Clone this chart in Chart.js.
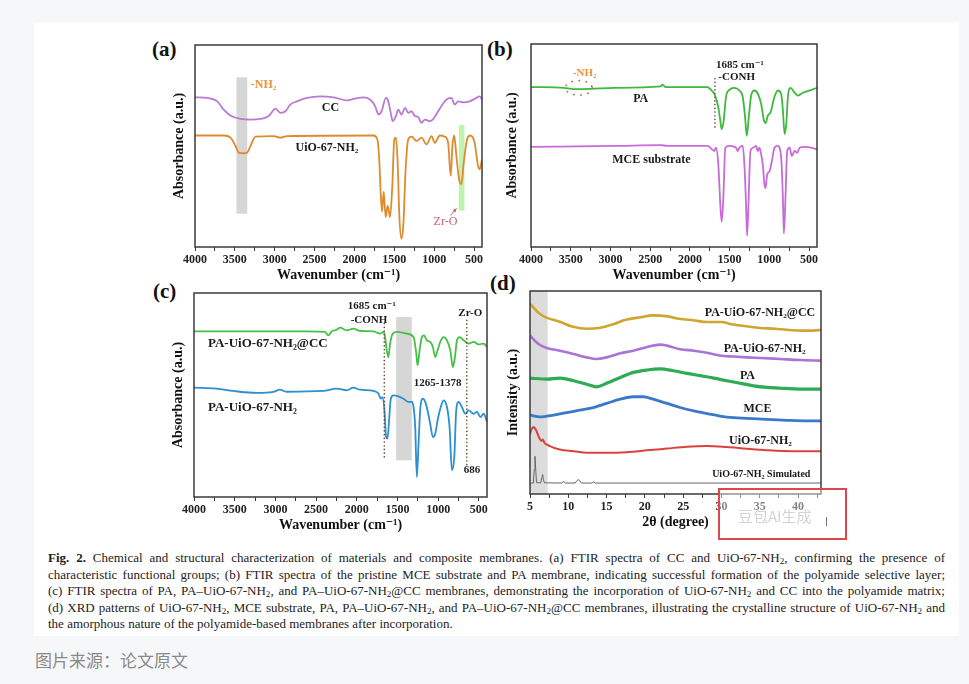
<!DOCTYPE html>
<html lang="en">
<head>
<meta charset="UTF-8">
<title>Fig. 2 FTIR and XRD</title>
<script src="https://cdn.jsdelivr.net/npm/chart.js"></script>
<style>
    * { box-sizing: border-box; margin: 0; padding: 0; }
    body {
        width: 969px; height: 684px; position: relative; overflow: hidden;
        background: #f6f7f8;
        font-family: 'Liberation Serif', 'DejaVu Serif', serif;
    }
    .sheet { position: absolute; left: 34px; top: 22px; width: 925px; height: 614px; background: #fff; }
    .tag { position: absolute; font: bold 21px 'Liberation Serif', 'DejaVu Serif', serif; color: #111; }
    canvas { position: absolute; }
    .caption { position: absolute; left: 48px; top: 550px; width: 897px; font-size: 13px; line-height: 16.5px; color: #222; }
    .caption div { text-align: justify; text-align-last: justify; }
    .caption div.last { text-align-last: left; }
    .caption sub { font-size: 70%; vertical-align: -0.2em; line-height: 0; }
    .source { position: absolute; left: 35px; top: 647px; font: 17px 'Noto Sans CJK SC', sans-serif; color: #8a8a8a; }
    .redbox {
        position: absolute; left: 718px; top: 488px; width: 129px; height: 52px;
        border: 2px solid #e0474c; background: rgba(255, 255, 255, 0.45);
    }
    .redbox span { position: absolute; left: 18px; top: 15px; font: 15px 'Noto Sans CJK SC', sans-serif; color: #d4d4d4; }
    .redbox i { position: absolute; left: 106px; top: 27px; width: 1px; height: 9px; background: #777; }
</style>
</head>
<body>
<div class="sheet"></div>

<div class="tag" style="left:152px;top:37px">(a)</div>
<div class="tag" style="left:487px;top:37px">(b)</div>
<div class="tag" style="left:153px;top:279px">(c)</div>
<div class="tag" style="left:490px;top:271px">(d)</div>

<canvas id="cA" width="319" height="244" style="left:171px;top:40px"></canvas>
<canvas id="cB" width="321" height="245" style="left:504px;top:39px"></canvas>
<canvas id="cC" width="325" height="246" style="left:170px;top:288px"></canvas>
<canvas id="cD" width="324" height="245" style="left:505px;top:286px"></canvas>

<div class="redbox"><span>豆包AI生成</span><i></i></div>

<div class="caption">
    <div><b>Fig. 2.</b> Chemical and structural characterization of materials and composite membranes. (a) FTIR spectra of CC and UiO-67-NH<sub>2</sub>, confirming the presence of</div>
    <div>characteristic functional groups; (b) FTIR spectra of the pristine MCE substrate and PA membrane, indicating successful formation of the polyamide selective layer;</div>
    <div>(c) FTIR spectra of PA, PA–UiO-67-NH<sub>2</sub>, and PA–UiO-67-NH<sub>2</sub>@CC membranes, demonstrating the incorporation of UiO-67-NH<sub>2</sub> and CC into the polyamide matrix;</div>
    <div>(d) XRD patterns of UiO-67-NH<sub>2</sub>, MCE substrate, PA, PA–UiO-67-NH<sub>2</sub>, and PA–UiO-67-NH<sub>2</sub>@CC membranes, illustrating the crystalline structure of UiO-67-NH<sub>2</sub> and</div>
    <div class="last">the amorphous nature of the polyamide-based membranes after incorporation.</div>
</div>

<div class="source">图片来源：论文原文</div>

<script>
// (a) FTIR of CC and UiO-67-NH2 (absorbance in arbitrary units, 0-100 of the frame)
const ccWave = [4000,3850,3720,3640,3555,3430,3305,3180,3075,2990,2930,2865,2805,2720,2595,2430,2260,2095,2010,1885,1805,1740,1700,1660,1605,1575,1545,1520,1480,1450,1410,1365,1325,1285,1240,1200,1160,1115,1055,1010,950,910,845,785,740,700,635,555,470,430,400];
const ccAbs = [74.1,73.8,72.1,68.0,65.1,63.4,63.1,63.4,64.8,68.5,66.4,67.2,70.5,72.1,73.8,74.6,74.1,72.6,73.3,74.1,73.0,69.7,65.6,67.2,73.8,72.1,66.4,62.3,64.8,68.0,65.6,68.9,66.4,67.2,64.8,64.4,61.5,63.1,62.3,63.4,67.2,69.7,73.0,73.8,70.5,72.1,71.6,72.1,73.8,74.6,73.0];
const uioWave = [4000,3637,3554,3492,3450,3387,3346,3304,3242,3012,2929,2846,1762,1713,1687,1671,1654,1633,1608,1583,1554,1525,1500,1479,1458,1437,1412,1387,1358,1325,1283,1221,1158,1096,1033,992,929,867,825,792,771,750,721,688,658,629,587,546,492,450,429,400];
const uioAbs = [55.2,55.2,54.1,50.0,46.7,46.4,46.7,50.0,54.6,54.9,54.1,54.9,55.2,53.3,41.8,27.0,17.5,27.4,14.8,20.5,14.8,30.3,53.3,54.1,41.8,15.6,4.1,10.7,38.5,53.3,54.6,52.5,54.1,50.8,54.9,51.6,55.2,54.6,51.6,35.2,50.0,55.2,45.1,33.6,31.1,41.8,53.3,55.2,51.6,40.2,38.5,43.4];

// (b) FTIR of PA and the MCE substrate
const paWave = [4000,3587,3461,3251,2956,2366,2345,2303,1777,1735,1693,1642,1617,1600,1575,1545,1503,1440,1377,1335,1305,1284,1259,1229,1187,1145,1103,1067,1048,1019,985,935,893,851,829,808,787,766,733,682,640,577,472,400];
const paAbs = [78.8,78.4,77.8,77.9,78.4,79.1,80.0,78.8,78.8,77.4,75.5,68.8,62.2,58.0,62.2,74.0,77.4,78.4,77.1,74.0,63.8,54.7,63.8,74.6,77.1,75.5,70.5,62.2,61.0,64.7,66.3,74.0,77.1,75.5,67.2,55.6,60.5,74.0,78.4,76.0,74.6,76.0,77.4,78.4];
const mceWave = [4000,2956,2366,2282,1777,1735,1693,1672,1642,1617,1600,1579,1554,1503,1419,1398,1377,1335,1314,1293,1280,1263,1238,1208,1166,1145,1124,1103,1082,1061,1048,1027,998,968,935,893,851,829,817,800,775,745,716,682,648,619,556,472,400];
const mceAbs = [49.3,49.8,50.2,49.8,49.8,48.6,47.3,48.9,40.6,20.7,12.4,24.0,48.9,49.8,48.9,47.3,48.9,49.8,40.6,20.7,5.5,20.7,47.3,48.9,49.8,47.3,48.9,45.6,40.6,30.7,29.0,35.7,37.3,42.3,48.9,49.8,43.9,24.0,6.6,20.7,47.3,48.9,44.8,47.3,46.4,48.9,49.3,48.9,48.1];

// (c) FTIR of PA-UiO-67-NH2@CC and PA-UiO-67-NH2
const pacWave = [4000,3438,2617,2391,2350,2309,2247,2206,2124,2042,1960,1796,1713,1672,1652,1632,1612,1591,1558,1509,1385,1303,1269,1254,1228,1200,1172,1139,1098,1065,1036,1007,974,933,892,851,819,794,769,737,687,626,564,502,441,400];
const pacAbs = [81.2,81.2,81.2,80.9,79.2,81.2,82.0,83.0,81.7,82.5,81.4,81.2,80.1,80.9,78.4,71.9,68.6,75.2,80.1,80.9,80.1,78.4,70.3,64.5,71.9,78.4,79.2,76.8,76.0,73.5,68.6,71.9,76.0,78.4,76.8,71.9,63.7,68.6,76.8,78.4,76.8,75.2,76.0,74.8,75.2,73.5];
const pauWave = [4000,3725,3520,3232,3027,2945,2863,2411,2247,2124,2042,1960,1796,1734,1705,1685,1660,1640,1623,1603,1582,1549,1488,1426,1365,1324,1303,1282,1262,1241,1221,1188,1159,1131,1098,1065,1036,1007,974,933,892,860,831,802,778,749,708,667,626,564,523,482,441,400];
const pauAbs = [53.6,53.1,52.0,51.0,51.5,52.6,51.6,52.0,53.1,52.3,53.6,52.6,52.0,50.7,48.2,49.0,42.5,29.4,28.6,37.6,48.2,49.8,49.3,48.2,46.6,46.6,44.1,34.3,9.8,26.1,42.5,48.2,46.6,42.5,35.9,29.4,31.0,37.6,43.3,47.4,44.1,34.3,13.1,19.6,42.5,46.6,44.1,40.8,42.5,40.8,41.7,39.2,40.8,36.8];

// (d) XRD patterns (2 theta in degrees, stacked intensity in arbitrary units)
const ccxTheta = [5,5.4,6,7,9,10.5,12.5,14,16,17.5,19.5,21,23,24.5,26.5,28,30,31.5,33.5,35,37,38.5,40.5,42,43];
const ccxInt = [93.7,92.1,89.6,87.1,84.7,82.5,81.4,81.8,83.8,85.8,87.1,88.0,87.5,86.3,85.5,84.7,84.7,83.5,82.5,81.8,81.4,80.9,80.5,80.5,80.9];
const puxTheta = [5,5.4,6.1,7.2,8.9,10.7,12.4,13.7,15,16.8,18.5,20.2,22,22.9,24.6,26.4,28.1,29.8,31.6,33.3,35.1,37.7,40.3,43];
const puxInt = [78.1,76.4,73.9,71.9,70.6,69.0,67.3,66.5,67.3,69.3,70.6,72.3,73.6,73.1,71.3,70.6,69.6,68.2,67.7,67.3,67.0,66.5,66.0,65.7];
const paxTheta = [5,7.2,8.9,10.7,12.4,13.7,15,16.8,18.5,20.3,22,23.7,25.5,27.2,29,30.7,32.5,34.2,36,37.7,40.3,43];
const paxInt = [57.1,56.6,57.1,55.8,54.1,52.8,54.5,57.4,59.9,61.1,61.6,60.7,59.4,58.3,57.1,55.8,54.5,53.3,52.5,52.1,51.7,51.7];
const mcexTheta = [5,6.3,8.1,9.8,11.5,13.3,15,16.8,18.5,19.8,21.1,22.9,24.6,26.4,28.1,29.8,31.6,33.3,35.9,38.6,41.2,43];
const mcexInt = [38.9,38.0,38.9,40.1,41.3,42.6,44.6,46.7,47.9,47.9,46.7,44.6,42.6,40.9,39.6,38.4,37.6,37.3,36.8,36.3,36.0,36.0];
const uioxTheta = [5,5.2,5.45,5.8,6.2,6.5,6.65,6.9,7.6,8.9,10.7,12.4,15,17.6,20.3,22.9,25.5,28.1,30.7,33.3,35.9,39.4,43];
const uioxInt = [29.4,31.8,33.0,31.4,27.7,26.1,26.9,25.2,23.6,21.9,21.1,20.3,20.3,20.6,21.5,22.4,23.3,23.6,23.1,22.3,21.6,21.1,21.1];
const simTheta = [5,5.45,5.55,5.65,5.75,5.85,6.4,6.55,6.65,6.75,6.9,9.2,9.4,9.6,10.9,11.1,11.3,11.5,11.7,13.1,13.3,13.5,43];
const simInt = [5.4,5.4,12,18.6,12,5.6,5.5,8,9.6,7,5.5,5.4,6.3,5.4,5.4,6.5,7.1,6.6,5.4,5.4,5.9,5.4,5.4];

// tick positions (labels only on the major ones)
const ftirTicks = [4000,3750,3500,3250,3000,2750,2500,2250,2000,1750,1500,1250,1000,750,500];
const xrdTicks = [5,7.5,10,12.5,15,17.5,20,22.5,25,27.5,30,32.5,35,37.5,40,42.5];

const SERIF = "'Liberation Serif', 'DejaVu Serif', serif";
Chart.defaults.font.family = SERIF;
Chart.defaults.color = '#222';

// annotations for each panel, in data units
const panelNotes = {
    cA: {
        bands: [
            { from: 3480, to: 3345, top: 84, bottom: 16.5, color: 'rgba(200,200,200,0.75)' },
            { from: 690, to: 620, top: 60.5, bottom: 18, color: 'rgba(150,235,120,0.6)' }
        ],
        texts: [
            { t: '-NH₂', x: 3300, y: 80, align: 'left', color: '#e8923a', size: 12 },
            { t: 'CC', x: 2300, y: 69, size: 12 },
            { t: 'UiO-67-NH₂', x: 2345, y: 49, size: 12 },
            { t: 'Zr-O', x: 858, y: 12.3, color: '#d05a6e', size: 12, weight: 'normal' }
        ],
        arrows: [{ x1: 790, y1: 15.8, x2: 722, y2: 19, color: '#d05a6e' }]
    },
    cB: {
        texts: [
            { t: '-NH₂', x: 3326, y: 85.4, color: '#e8923a', size: 11 },
            { t: 'PA', x: 2619, y: 73, size: 12 },
            { t: 'MCE substrate', x: 2484, y: 43.1, size: 12 },
            { t: '1685 cm⁻¹', x: 1672, y: 89.6, align: 'left', size: 11 },
            { t: '-CONH', x: 1642, y: 83.7, align: 'left', size: 11 }
        ],
        dots: [{ x: 1685, from: 82.9, to: 58.9 }],
        rings: [{ x: 3398, y: 78.4, dx: 168, dy: 3.6 }]
    },
    cC: {
        bands: [{ from: 1516, to: 1324, top: 88.2, bottom: 18, color: 'rgba(200,200,200,0.75)' }],
        texts: [
            { t: '1685 cm⁻¹', x: 1816, y: 93.5, size: 11 },
            { t: '-CONH', x: 1850, y: 86.6, size: 11 },
            { t: 'Zr-O', x: 605, y: 89.9, size: 11 },
            { t: '1265-1378', x: 1007, y: 55.6, size: 11 },
            { t: '686', x: 585, y: 13, size: 11 },
            { t: 'PA-UiO-67-NH₂@CC', x: 3828, y: 75.2, align: 'left', size: 13 },
            { t: 'PA-UiO-67-NH₂', x: 3828, y: 44, align: 'left', size: 13 }
        ],
        dots: [{ x: 1662, from: 85, to: 19.5 }, { x: 648, from: 86.6, to: 14.7 }]
    },
    cD: {
        bands: [{ from: 5, to: 7.3, top: 100, bottom: 0, color: 'rgba(205,205,205,0.7)' }],
        texts: [
            { t: 'PA-UiO-67-NH₂@CC', x: 42.25, y: 89.1, align: 'right', size: 12 },
            { t: 'PA-UiO-67-NH₂', x: 41.0, y: 71.5, align: 'right', size: 12 },
            { t: 'PA', x: 33.4, y: 58.3, size: 12 },
            { t: 'MCE', x: 34.7, y: 42.1, size: 12 },
            { t: 'UiO-67-NH₂', x: 35.1, y: 26.1, size: 12 },
            { t: 'UiO-67-NH₂ Simulated', x: 35.2, y: 9.6, size: 10 }
        ]
    }
};

const notes = {
    id: 'notes',
    beforeDatasetsDraw(chart) {
        const n = panelNotes[chart.canvas.id];
        const { ctx, scales: { x, y } } = chart;
        ctx.save();
        (n.bands || []).forEach(b => {
            const x1 = x.getPixelForValue(b.from), x2 = x.getPixelForValue(b.to);
            const y1 = y.getPixelForValue(b.top), y2 = y.getPixelForValue(b.bottom);
            ctx.fillStyle = b.color;
            ctx.fillRect(Math.min(x1, x2), y1, Math.abs(x2 - x1), y2 - y1);
        });
        ctx.restore();
    },
    afterDatasetsDraw(chart) {
        const n = panelNotes[chart.canvas.id];
        const { ctx, chartArea: a, scales: { x, y } } = chart;
        ctx.save();
        ctx.lineCap = 'round';

        ctx.strokeStyle = '#6b4636';
        ctx.lineWidth = 1.6;
        ctx.setLineDash([0.1, 3.6]);
        (n.dots || []).forEach(d => {
            const px = x.getPixelForValue(d.x);
            ctx.beginPath();
            ctx.moveTo(px, y.getPixelForValue(d.from));
            ctx.lineTo(px, y.getPixelForValue(d.to));
            ctx.stroke();
        });

        ctx.strokeStyle = '#b06a4a';
        ctx.lineWidth = 1.8;
        ctx.setLineDash([0.1, 7]);
        (n.rings || []).forEach(r => {
            const cx = x.getPixelForValue(r.x), cy = y.getPixelForValue(r.y);
            const rx = Math.abs(x.getPixelForValue(r.x + r.dx) - cx);
            const ry = Math.abs(y.getPixelForValue(r.y + r.dy) - cy);
            ctx.beginPath();
            ctx.ellipse(cx, cy, rx, ry, 0, 0, Math.PI * 2);
            ctx.stroke();
        });
        ctx.setLineDash([]);

        (n.arrows || []).forEach(r => {
            const x1 = x.getPixelForValue(r.x1), y1 = y.getPixelForValue(r.y1);
            const x2 = x.getPixelForValue(r.x2), y2 = y.getPixelForValue(r.y2);
            const ang = Math.atan2(y2 - y1, x2 - x1);
            ctx.strokeStyle = r.color;
            ctx.fillStyle = r.color;
            ctx.lineWidth = 1;
            ctx.beginPath(); ctx.moveTo(x1, y1); ctx.lineTo(x2, y2); ctx.stroke();
            ctx.beginPath();
            ctx.moveTo(x2, y2);
            ctx.lineTo(x2 - 4 * Math.cos(ang - 0.5), y2 - 4 * Math.sin(ang - 0.5));
            ctx.lineTo(x2 - 4 * Math.cos(ang + 0.5), y2 - 4 * Math.sin(ang + 0.5));
            ctx.fill();
        });

        ctx.textBaseline = 'middle';
        (n.texts || []).forEach(t => {
            ctx.font = (t.weight || 'bold') + ' ' + t.size + 'px ' + SERIF;
            ctx.fillStyle = t.color || '#1a1a1a';
            ctx.textAlign = t.align || 'center';
            ctx.fillText(t.t, x.getPixelForValue(t.x), y.getPixelForValue(t.y));
        });

        // plot frame
        ctx.strokeStyle = '#3a3a3a';
        ctx.lineWidth = 1.5;
        ctx.strokeRect(a.left, a.top, a.right - a.left, a.bottom - a.top);
        ctx.restore();
    }
};

function pts(xs, ys) {
    return xs.map((v, i) => ({ x: v, y: ys[i] }));
}

function trace(xs, ys, color, width, smooth) {
    return {
        data: pts(xs, ys),
        borderColor: color,
        borderWidth: width,
        pointRadius: 0,
        fill: false,
        cubicInterpolationMode: smooth === false ? 'default' : 'monotone',
        tension: smooth === false ? 0 : 0.4
    };
}

function panel(id, pad, ax, datasets) {
    return new Chart(document.getElementById(id), {
        type: 'line',
        data: { datasets: datasets },
        plugins: [notes],
        options: {
            responsive: false,
            animation: false,
            devicePixelRatio: 1,
            layout: { padding: { top: pad.t, right: pad.r, left: 0, bottom: 0 } },
            plugins: { legend: { display: false }, tooltip: { enabled: false } },
            scales: {
                x: {
                    type: 'linear',
                    min: ax.min,
                    max: ax.max,
                    reverse: ax.reverse,
                    afterBuildTicks: s => { s.ticks = ax.ticks.map(v => ({ value: v })); },
                    afterFit: s => { s.height = pad.b; },
                    ticks: {
                        autoSkip: false, maxRotation: 0, padding: 2,
                        font: { size: 12, weight: 'bold' }, color: '#222',
                        callback: v => (v % ax.step === 0 ? String(v) : '')
                    },
                    grid: { drawOnChartArea: false, tickLength: 4, color: '#3a3a3a' },
                    border: { display: false },
                    title: { display: true, text: ax.title, font: { size: 14, weight: 'bold' }, color: '#111', padding: 0 }
                },
                y: {
                    min: 0,
                    max: 100,
                    afterFit: s => { s.width = pad.l; },
                    ticks: { display: false },
                    grid: { display: false },
                    border: { display: false },
                    title: { display: true, text: ax.ytitle, font: { size: 14, weight: 'bold' }, color: '#111', padding: 0 }
                }
            }
        }
    });
}

const ftirAxis = { min: 400, max: 4000, reverse: true, ticks: ftirTicks, step: 500, title: 'Wavenumber (cm⁻¹)', ytitle: 'Absorbance (a.u.)' };

panel('cA', { l: 24, t: 5, r: 8, b: 37 }, ftirAxis, [
    trace(ccWave, ccAbs, '#b97ad6', 1.8),
    trace(uioWave, uioAbs, '#e08a2e', 1.8)
]);

panel('cB', { l: 27, t: 5, r: 8, b: 37 }, ftirAxis, [
    trace(paWave, paAbs, '#3fb83f', 1.8),
    trace(mceWave, mceAbs, '#c86bd8', 1.8)
]);

panel('cC', { l: 24, t: 5, r: 8, b: 37 }, ftirAxis, [
    trace(pacWave, pacAbs, '#44c044', 1.8),
    trace(pauWave, pauAbs, '#2b8fd0', 1.8)
]);

panel('cD', { l: 25, t: 5, r: 8, b: 37 },
    { min: 5, max: 43, reverse: false, ticks: xrdTicks, step: 5, title: '2θ (degree)', ytitle: 'Intensity (a.u.)' }, [
    trace(ccxTheta, ccxInt, '#cfa52e', 2.6),
    trace(puxTheta, puxInt, '#a874d8', 2.6),
    trace(paxTheta, paxInt, '#2faa55', 3.2),
    trace(mcexTheta, mcexInt, '#3a78c8', 2.8),
    trace(uioxTheta, uioxInt, '#d8433e', 2),
    trace(simTheta, simInt, '#666666', 1, false)
]);
</script>
</body>
</html>
